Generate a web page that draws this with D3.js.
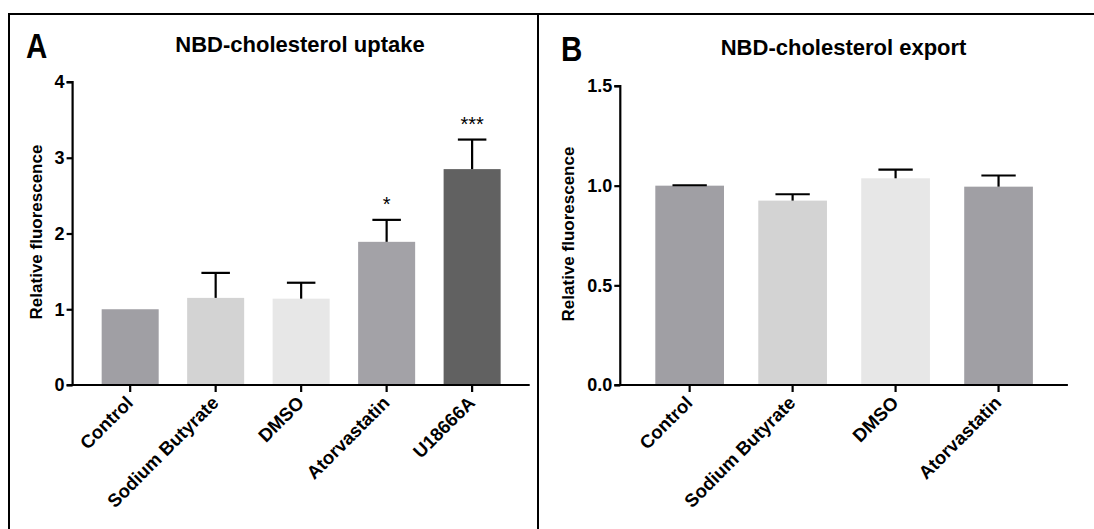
<!DOCTYPE html>
<html>
<head>
<meta charset="utf-8">
<script src="https://cdn.jsdelivr.net/npm/d3@7"></script>
<style>
  html, body { margin: 0; padding: 0; background: #fff; }
  svg { display: block; }
  text { font-family: "Liberation Sans", Arial, sans-serif; fill: #000; }
</style>
</head>
<body>
<svg id="chart" width="1094" height="529"></svg>
<script>
// ---------- data ----------
const catsA = ["Control", "Sodium Butyrate", "DMSO", "Atorvastatin", "U18666A"];
const meanA = [1.0, 1.15, 1.14, 1.89, 2.85];
const errA  = [null, 0.33, 0.21, 0.29, 0.39];
const sigA  = ["", "", "", "*", "***"];
const colorsA = ["#a09fa4", "#d3d3d3", "#e7e7e7", "#a3a2a7", "#616161"];
const ticksA = [0, 1, 2, 3, 4];

const catsB = ["Control", "Sodium Butyrate", "DMSO", "Atorvastatin"];
const meanB = [1.0, 0.925, 1.037, 0.995];
const errB  = [0.002, 0.032, 0.043, 0.056];
const sigB  = ["", "", "", ""];
const colorsB = ["#a09fa4", "#d3d3d3", "#e7e7e7", "#a09fa4"];
const ticksB = [0, 0.5, 1.0, 1.5];

const svg = d3.select("#chart");

// frame lines
svg.append("line").attr("x1", 9).attr("x2", 1094).attr("y1", 14).attr("y2", 14)
  .attr("stroke", "#000").attr("stroke-width", 2);
svg.append("line").attr("x1", 9).attr("x2", 9).attr("y1", 13).attr("y2", 529)
  .attr("stroke", "#000").attr("stroke-width", 2);
svg.append("line").attr("x1", 538).attr("x2", 538).attr("y1", 13).attr("y2", 529)
  .attr("stroke", "#000").attr("stroke-width", 2);

function panel(cfg) {
  const g = svg.append("g");
  const x = d3.scaleBand().domain(cfg.cats).range([cfg.x0, cfg.x1])
    .paddingInner(0.333).paddingOuter(0.34);
  const y = d3.scaleLinear().domain([0, cfg.ymax]).range([cfg.y0, cfg.ytop]);

  // bars
  g.selectAll("rect.bar").data(cfg.cats).join("rect")
    .attr("class", "bar")
    .attr("x", d => x(d))
    .attr("width", x.bandwidth())
    .attr("y", (d, i) => y(cfg.mean[i]))
    .attr("height", (d, i) => y(0) - y(cfg.mean[i]))
    .attr("fill", (d, i) => cfg.colors[i]);

  // error bars (upper only)
  const eb = cfg.cats.map((c, i) => ({c, m: cfg.mean[i], e: cfg.err[i], s: cfg.sig[i]}))
    .filter(d => d.e !== null);
  const cw = x.bandwidth() / 2;
  g.selectAll("line.ev").data(eb).join("line")
    .attr("x1", d => x(d.c) + x.bandwidth() / 2).attr("x2", d => x(d.c) + x.bandwidth() / 2)
    .attr("y1", d => y(d.m)).attr("y2", d => y(d.m + d.e))
    .attr("stroke", "#000").attr("stroke-width", 2.2);
  g.selectAll("line.ec").data(eb).join("line")
    .attr("x1", d => x(d.c) + x.bandwidth() / 2 - cw / 2)
    .attr("x2", d => x(d.c) + x.bandwidth() / 2 + cw / 2)
    .attr("y1", d => y(d.m + d.e)).attr("y2", d => y(d.m + d.e))
    .attr("stroke", "#000").attr("stroke-width", 2.2);

  // significance
  g.selectAll("text.sig").data(eb.filter(d => d.s)).join("text")
    .attr("x", d => x(d.c) + x.bandwidth() / 2)
    .attr("y", d => y(d.m + d.e) - 9)
    .attr("text-anchor", "middle")
    .attr("font-size", 20)
    .text(d => d.s);

  // y axis
  const ya = g.append("g").attr("transform", `translate(${cfg.x0},0)`)
    .call(d3.axisLeft(y).tickValues(cfg.ticks).tickSize(6).tickPadding(2)
      .tickFormat(cfg.fmt));
  ya.select(".domain").attr("stroke-width", 2.2).attr("d", `M-6,${cfg.ytop}H0V${cfg.y0}`);
  ya.selectAll(".tick line").attr("stroke-width", 2.2);
  ya.selectAll(".tick text").attr("font-size", 18).attr("font-weight", "bold")
    .attr("font-family", '"Liberation Sans", Arial, sans-serif');

  // x axis
  const xa = g.append("g").attr("transform", `translate(0,${cfg.y0})`)
    .call(d3.axisBottom(x).tickSize(7).tickFormat(""));
  xa.select(".domain").attr("stroke-width", 2.2).attr("d", `M${cfg.x0 - 6},0H${cfg.x1}`);
  xa.selectAll(".tick line").attr("stroke-width", 2.2);

  g.selectAll("text.cat").data(cfg.cats).join("text")
    .attr("class", "cat")
    .attr("transform", d => `translate(${x(d) + x.bandwidth() / 2 + 4},${cfg.y0 + 19}) rotate(-45)`)
    .attr("text-anchor", "end")
    .attr("font-size", 18.5).attr("font-weight", "bold")
    .text(d => d);

  // y label
  g.append("text")
    .attr("transform", `translate(${cfg.ylabX},${cfg.ylabY}) rotate(-90)`)
    .attr("text-anchor", "middle").attr("font-size", 17).attr("font-weight", "bold")
    .text("Relative fluorescence");

  // title
  g.append("text").attr("x", cfg.titleX).attr("y", cfg.titleY)
    .attr("text-anchor", "middle").attr("font-size", 22).attr("font-weight", "bold")
    .text(cfg.title);

  // panel letter
  g.append("text")
    .attr("transform", `translate(${cfg.letX},${cfg.letY}) scale(0.82,1)`)
    .attr("font-size", 36).attr("font-weight", "bold")
    .text(cfg.letter);
}

panel({
  cats: catsA, mean: meanA, err: errA, sig: sigA, colors: colorsA, ticks: ticksA,
  fmt: d3.format("d"), ymax: 4,
  x0: 72.6, x1: 529.7, y0: 385, ytop: 82,
  ylabX: 42, ylabY: 232, titleX: 300, titleY: 52,
  title: "NBD-cholesterol uptake", letter: "A", letX: 26, letY: 58
});

panel({
  cats: catsB, mean: meanB, err: errB, sig: sigB, colors: colorsB, ticks: ticksB,
  fmt: d3.format(".1f"), ymax: 1.5,
  x0: 620.3, x1: 1067.9, y0: 385, ytop: 86,
  ylabX: 574, ylabY: 234, titleX: 843.6, titleY: 55,
  title: "NBD-cholesterol export", letter: "B", letX: 561, letY: 61
});
</script>
</body>
</html>
